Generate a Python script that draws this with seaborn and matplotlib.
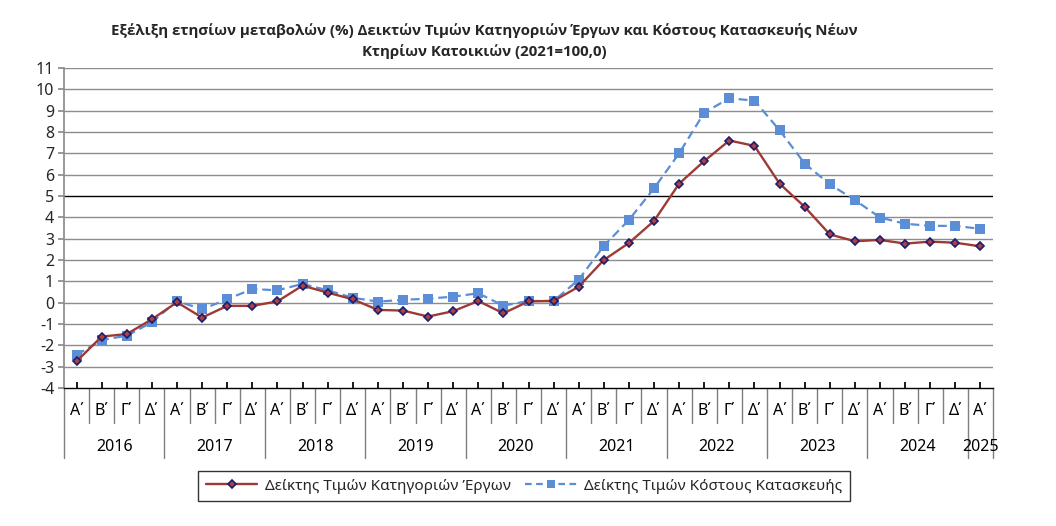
import matplotlib
matplotlib.use("Agg")
import matplotlib.pyplot as plt
from matplotlib.lines import Line2D
import seaborn as sns
import pandas as pd
import numpy as np

# ---- data ----
years = ["2016", "2017", "2018", "2019", "2020", "2021", "2022", "2023", "2024", "2025"]
quarters = ["Α΄", "Β΄", "Γ΄", "Δ΄"]
n_points = 37  # 2016 Α΄ ... 2025 Α΄

works_index = [-2.75, -1.59, -1.47, -0.78,
               0.02, -0.70, -0.15, -0.15,
               0.06, 0.80, 0.47, 0.16,
               -0.34, -0.37, -0.65, -0.40,
               0.08, -0.50, 0.06, 0.08,
               0.75, 2.00, 2.80, 3.83,
               5.58, 6.64, 7.60, 7.35,
               5.58, 4.49, 3.20, 2.88,
               2.94, 2.77, 2.86, 2.81,
               2.64]
cost_index = [-2.45, -1.75, -1.55, -0.92,
              0.08, -0.31, 0.16, 0.64,
              0.58, 0.88, 0.58, 0.23,
              0.05, 0.13, 0.19, 0.28,
              0.44, -0.14, 0.08, 0.08,
              1.08, 2.66, 3.88, 5.36,
              7.00, 8.91, 9.58, 9.47,
              8.08, 6.52, 5.55, 4.81,
              3.99, 3.70, 3.60, 3.60,
              3.46]
series_names = ["Δείκτης Τιμών Κατηγοριών Έργων", "Δείκτης Τιμών Κόστους Κατασκευής"]
y_ticks = list(range(-4, 12))

# ---- style ----
sns.set_theme(style="white")
plt.rcParams["font.family"] = ["Noto Sans", "DejaVu Sans"]

fig = plt.figure(figsize=(10.56, 5.26), dpi=100)
ax = fig.add_axes([64 / 1056, 1 - 388 / 526, (993 - 64) / 1056, 320 / 526])

x = np.arange(n_points)
df = pd.DataFrame({"x": x, "works": works_index, "cost": cost_index})

red = "#9E3A36"
blue = "#5B8ED6"

sns.lineplot(data=df, x="x", y="cost", ax=ax, color=blue, lw=1.6,
             linestyle=(0, (4, 2.2)), marker="s", markersize=6.5,
             markeredgewidth=0, markerfacecolor=blue, zorder=3)
sns.lineplot(data=df, x="x", y="works", ax=ax, color=red, lw=1.7,
             marker="D", markersize=4.2, markerfacecolor="#B0403C",
             markeredgecolor="#1C1C70", markeredgewidth=1.2, zorder=4)

ax.set_xlim(-0.5, n_points - 0.5)
ax.set_ylim(-4, 11)
ax.set_yticks(y_ticks)
ax.set_yticklabels([str(v) for v in y_ticks], fontsize=11.5)
ax.set_xticks(x)
ax.set_xticklabels([])
ax.set_xlabel("")
ax.set_ylabel("")

for v in y_ticks[1:]:
    ax.axhline(v, color="black" if v == 5 else "#8C8C8C", lw=1.0, zorder=1)

for s in ["top", "right"]:
    ax.spines[s].set_visible(False)
ax.spines["left"].set_color("#8C8C8C")
ax.spines["bottom"].set_color("black")
ax.spines["bottom"].set_linewidth(1.0)

ax.tick_params(axis="y", direction="out", length=4, color="#8C8C8C", pad=3, left=True)
ax.tick_params(axis="x", direction="in", length=4, color="black", bottom=True)

# ---- multi-level category labels ----
trans = ax.get_xaxis_transform()
q_bottom = -35 / 320
y_bottom = -70 / 320
for i in range(n_points):
    ax.text(i, -23 / 320, quarters[i % 4], transform=trans, ha="center", va="center",
            fontsize=11.5, color="black")
for i in range(n_points + 1):
    b = i - 0.5
    year_edge = (i % 4 == 0) or (i == n_points)
    ax.add_line(Line2D([b, b], [0, y_bottom if year_edge else q_bottom], transform=trans,
                       color="#7F7F7F", lw=1.0, clip_on=False))
for k, yr in enumerate(years):
    start = 4 * k
    end = min(4 * k + 3, n_points - 1)
    ax.text((start + end) / 2, -59 / 320, yr, transform=trans, ha="center", va="center",
            fontsize=11.5, color="black")

# ---- title ----
title_font = dict(ha="center", va="center", fontsize=10.8, fontweight="bold",
                  family=["Open Sans", "DejaVu Sans"])
fig.text(484 / 1056, 1 - 30 / 526,
         "Εξέλιξη ετησίων μεταβολών (%) Δεικτών Τιμών Κατηγοριών Έργων και Κόστους Κατασκευής Νέων",
         **title_font)
fig.text(484 / 1056, 1 - 52 / 526, "Κτηρίων Κατοικιών (2021=100,0)", **title_font)

# ---- legend ----
handles = [
    Line2D([], [], color=red, lw=1.7, marker="D", markersize=4.2,
           markerfacecolor="#B0403C", markeredgecolor="#1C1C70", markeredgewidth=1.2),
    Line2D([], [], color=blue, lw=1.6, linestyle=(0, (3, 2)), marker="s",
           markersize=6, markeredgewidth=0),
]
leg = fig.legend(handles, series_names, loc="center", bbox_to_anchor=(524 / 1056, 1 - 486 / 526),
                 ncol=2, frameon=True, fancybox=False, fontsize=11, handlelength=3.4,
                 columnspacing=0.9, handletextpad=0.5, borderpad=0.5)
leg.get_frame().set_edgecolor("black")
leg.get_frame().set_linewidth(1.0)

fig.savefig("out.png", dpi=100)
